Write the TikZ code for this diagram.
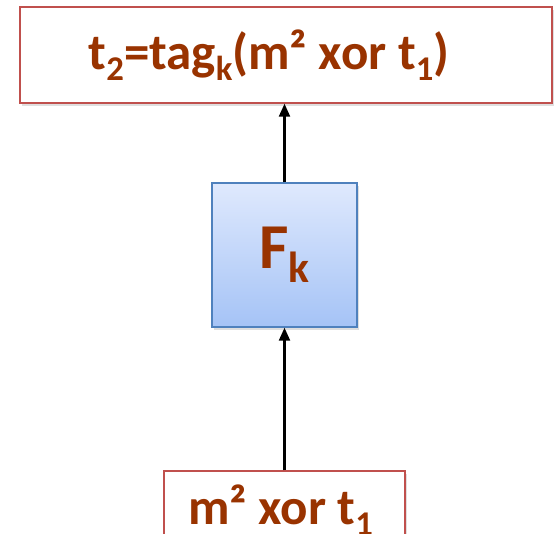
\documentclass[tikz,border=0pt]{standalone}
\usepackage{fontspec}
\setmainfont{Carlito}
\usetikzlibrary{arrows.meta, positioning, shadows}
\definecolor{boxred}{HTML}{C0504D}
\definecolor{textrust}{HTML}{993300}
\definecolor{boxblue}{HTML}{4F81BD}
\definecolor{fadetop}{HTML}{DFE9FD}
\definecolor{fadebot}{HTML}{A5C3F6}
\newcommand{\lowsub}[1]{\raisebox{-0.22em}{\fontsize{0.68em}{0.75em}\selectfont #1}}

\begin{document}
\begin{tikzpicture}[x=1pt, y=1pt,
    redbox/.style={draw=boxred, line width=1.4pt, fill=white, inner sep=0pt,
      text=textrust, font=\bfseries\fontsize{51}{56}\selectfont,
      drop shadow={shadow xshift=2pt, shadow yshift=-3pt, opacity=0.25}},
    funcbox/.style={draw=boxblue, line width=1.4pt, top color=fadetop,
      bottom color=fadebot, inner sep=0pt, minimum width=145pt, minimum height=144pt,
      text=textrust, font=\bfseries\fontsize{64}{68}\selectfont,
      drop shadow={shadow xshift=2pt, shadow yshift=-3pt, opacity=0.25}},
    flow/.style={line width=2.2pt, -{Triangle[length=13pt, width=11pt]}}]
    \useasboundingbox (0,0) rectangle (556,-534);
    \clip (0,0) rectangle (556,-534);
    \fill[white] (0,0) rectangle (556,-534);
    % boxes
    \node[redbox, minimum width=532pt, minimum height=96pt] (tagbox) at (286,-55)
      {t\lowsub{2}=tag\lowsub{k}(m² xor t\lowsub{1})\hspace*{34pt}};
    \node[funcbox] (fbox) at (284.5,-255) {F\lowsub{k}};
    \node[redbox, minimum width=241pt, minimum height=78pt] (inbox) at (284.5,-510)
      {m² xor t\lowsub{1}\hspace*{8pt}};
    % arrows
    \draw[flow] (inbox.north) -- (fbox.south);
    \draw[flow] (fbox.north) -- (fbox.north |- tagbox.south);
  \end{tikzpicture}
\end{document}
